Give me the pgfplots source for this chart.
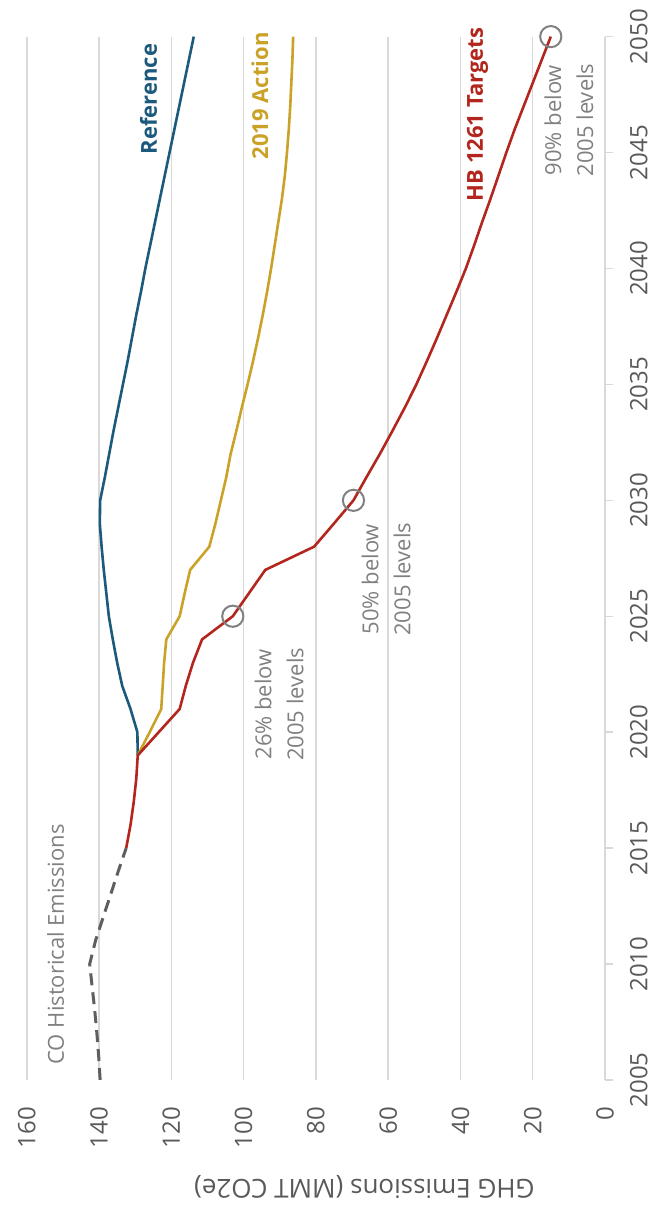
\documentclass[border=0pt]{standalone}
\usepackage{graphicx}
\usepackage{fontspec}
\setmainfont{Open Sans}
\usepackage{pgfplots}
\pgfplotsset{compat=1.18}

\definecolor{refblue}{HTML}{1C5A7D}
\definecolor{actgold}{HTML}{C9A227}
\definecolor{hbred}{HTML}{B3261E}
\definecolor{histgray}{HTML}{5F5F5F}
\definecolor{gridgray}{HTML}{D9D9D9}
\definecolor{tickgray}{HTML}{595959}
\definecolor{notegray}{HTML}{808080}

\begin{document}
\rotatebox{90}{%
\begin{tikzpicture}
\begin{axis}[
    at={(0,0)}, anchor=south west,
    scale only axis, width=521.5pt, height=289pt,
    xmin=2005, xmax=2050, ymin=0, ymax=160,
    xtick={2005,2010,...,2050}, ytick={0,20,...,160},
    /pgf/number format/1000 sep={},
    /pgf/number format/assume math mode=true,
    ymajorgrids, grid style={draw=gridgray, line width=0.7pt},
    axis line style={draw=none},
    tick pos=left, tick align=outside, major tick length=4pt,
    xtick style={draw=gridgray, line width=0.7pt},
    ytick style={draw=none},
    ticklabel style={font=\fontsize{12}{14}\selectfont, text=tickgray},
    xticklabel style={yshift=-5pt},
    yticklabel style={xshift=-6pt},
    ylabel={GHG Emissions (MMT CO2e)},
    ylabel style={at={([xshift=-53.5pt]axis description cs:0,0.416)}, anchor=center,
        font=\fontsize{13}{15}\selectfont, text=tickgray},
    clip=false,
]
% historical emissions
\addplot[histgray, line width=1.5pt, dash pattern=on 6pt off 3.5pt] coordinates {
    (2005,139.7) (2006,140.1) (2007,140.6) (2008,141.2) (2009,141.9) (2010,142.6)
    (2011,141.0) (2012,138.9) (2013,136.8) (2014,134.7) (2015,132.5)
};
% reference
\addplot[refblue, line width=1.3pt] coordinates {
    (2019,129.3) (2020,129.4) (2021,131.3) (2022,133.6) (2023,135.0) (2024,136.2)
    (2025,137.3) (2026,138.0) (2027,138.7) (2028,139.3) (2029,139.8) (2030,139.7)
    (2031,138.4) (2032,137.2) (2033,136.0) (2034,134.7) (2035,133.4) (2036,132.1)
    (2037,130.9) (2038,129.7) (2039,128.4) (2040,127.2) (2045,120.5) (2050,113.8)
};
% 2019 action
\addplot[actgold, line width=1.3pt] coordinates {
    (2019,129.3) (2020,126.0) (2021,122.8) (2022,122.4) (2023,122.0) (2024,121.4)
    (2025,117.7) (2026,116.3) (2027,114.8) (2028,109.5) (2029,107.8) (2030,106.3)
    (2031,104.8) (2032,103.6) (2033,102.0) (2034,100.5) (2035,98.9) (2036,97.4)
    (2037,96.0) (2038,94.7) (2039,93.5) (2040,92.4) (2041,91.4) (2042,90.4)
    (2043,89.4) (2044,88.6) (2045,88.0) (2046,87.5) (2047,87.1) (2048,86.8)
    (2049,86.5) (2050,86.3)
};
% HB 1261 targets
\addplot[hbred, line width=1.3pt] coordinates {
    (2015,132.5) (2016,131.3) (2017,130.4) (2018,129.7) (2019,129.3) (2020,123.5)
    (2021,117.7) (2022,116.0) (2023,114.0) (2024,111.5) (2025,103.0) (2026,98.5)
    (2027,94.0) (2028,80.5) (2029,75.0) (2030,69.6) (2031,66.0) (2032,62.3)
    (2033,58.8) (2034,55.4) (2035,52.2) (2036,49.3) (2037,46.5) (2038,43.8)
    (2039,41.1) (2040,38.5) (2041,36.2) (2042,34.0) (2043,31.7) (2044,29.5)
    (2045,27.3) (2046,25.0) (2047,22.5) (2048,20.0) (2049,17.5) (2050,15.0)
};
% target markers
\addplot[only marks, mark=o, mark size=5.3pt,
    mark options={draw=notegray, line width=1pt}] coordinates {
    (2025,103.0) (2030,69.6) (2050,15.0)
};

\node[anchor=west, inner sep=0pt, text=notegray, font=\fontsize{11}{13}\selectfont]
    at (axis cs:2005.65,152) {CO Historical Emissions};
\node[anchor=east, inner sep=0pt, text=refblue, font=\bfseries\fontsize{11}{13}\selectfont]
    at (axis cs:2049.7,126.3) {Reference};
\node[anchor=east, inner sep=0pt, text=actgold, font=\bfseries\fontsize{11}{13}\selectfont]
    at (axis cs:2050.2,95.5) {2019 Action};
\node[anchor=east, inner sep=0pt, text=hbred, font=\bfseries\fontsize{11}{13}\selectfont]
    at (axis cs:2050.4,35.3) {HB 1261 Targets};
\node[align=center, inner sep=0pt, text=notegray, font=\fontsize{11}{16}\selectfont]
    at (axis cs:2021.2,90.2) {26\% below\\2005 levels};
\node[align=center, inner sep=0pt, text=notegray, font=\fontsize{11}{16}\selectfont]
    at (axis cs:2026.6,60.6) {50\% below\\2005 levels};
\node[align=center, inner sep=0pt, text=notegray, font=\fontsize{11}{16}\selectfont]
    at (axis cs:2046.4,10.0) {90\% below\\2005 levels};
\end{axis}
\pgfresetboundingbox
\path[use as bounding box] (-66pt,-24pt) rectangle (539.8pt,302.4pt);
\end{tikzpicture}}
\end{document}
